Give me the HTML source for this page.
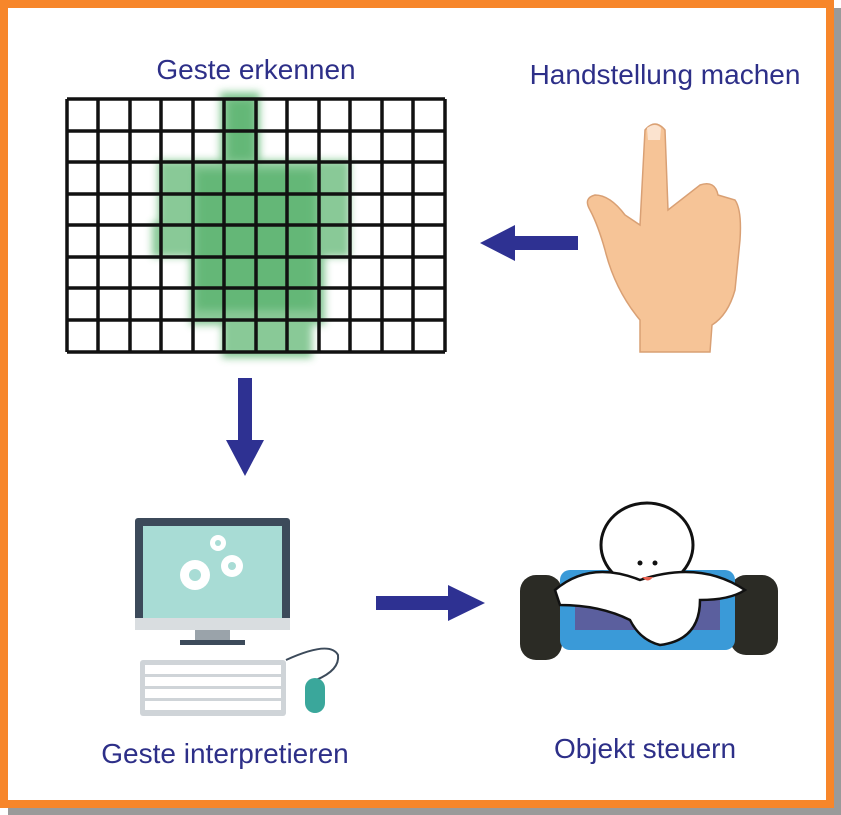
<!DOCTYPE html>
<html><head><meta charset="utf-8"><style>
html,body{margin:0;padding:0;background:#fff}
svg{display:block}
text{font-family:"Liberation Sans",sans-serif;fill:#2d2f88;font-size:28px}
</style></head><body>
<svg width="841" height="815" viewBox="0 0 841 815" xmlns="http://www.w3.org/2000/svg">
<defs>
<filter id="bl" x="-20%" y="-20%" width="140%" height="140%"><feGaussianBlur stdDeviation="4"/></filter>
</defs>
<rect x="0" y="0" width="841" height="815" fill="#fff"/>
<rect x="8" y="8" width="833" height="807" fill="#9a9a9a"/>
<rect x="4" y="4" width="826" height="800" fill="#fff" stroke="#f7862a" stroke-width="8"/>

<text x="256" y="79" text-anchor="middle">Geste erkennen</text>
<text x="665" y="84" text-anchor="middle">Handstellung machen</text>
<text x="225" y="763" text-anchor="middle">Geste interpretieren</text>
<text x="645" y="758" text-anchor="middle">Objekt steuern</text>

<g fill="#3aa652" opacity="0.6" filter="url(#bl)">
<rect x="220" y="92" width="40" height="75"/>
<rect x="158" y="160" width="192" height="65"/>
<rect x="152" y="222" width="198" height="35"/>
<rect x="190" y="255" width="135" height="70"/>
<rect x="222" y="320" width="90" height="38"/>
</g>
<g fill="#2f9e48" opacity="0.4" filter="url(#bl)">
<rect x="228" y="100" width="26" height="60"/>
<rect x="196" y="170" width="120" height="140"/>
</g>
<g stroke="#111" stroke-width="3.5">
<line x1="67" y1="99" x2="67" y2="352"/><line x1="98" y1="99" x2="98" y2="352"/>
<line x1="130" y1="99" x2="130" y2="352"/><line x1="161" y1="99" x2="161" y2="352"/>
<line x1="193" y1="99" x2="193" y2="352"/><line x1="224" y1="99" x2="224" y2="352"/>
<line x1="256" y1="99" x2="256" y2="352"/><line x1="287" y1="99" x2="287" y2="352"/>
<line x1="319" y1="99" x2="319" y2="352"/><line x1="350" y1="99" x2="350" y2="352"/>
<line x1="382" y1="99" x2="382" y2="352"/><line x1="413" y1="99" x2="413" y2="352"/>
<line x1="445" y1="99" x2="445" y2="352"/>
<line x1="67" y1="99" x2="445" y2="99"/><line x1="67" y1="131" x2="445" y2="131"/>
<line x1="67" y1="162" x2="445" y2="162"/><line x1="67" y1="194" x2="445" y2="194"/>
<line x1="67" y1="225" x2="445" y2="225"/><line x1="67" y1="257" x2="445" y2="257"/>
<line x1="67" y1="288" x2="445" y2="288"/><line x1="67" y1="320" x2="445" y2="320"/>
<line x1="67" y1="352" x2="445" y2="352"/>
</g>

<g fill="#2e3192">
<polygon points="578,236 515,236 515,225 480,243 515,261 515,250 578,250"/>
<polygon points="238,378 252,378 252,440 264,440 245,476 226,440 238,440"/>
<polygon points="376,596 448,596 448,585 485,603 448,621 448,610 376,610"/>
</g>

<g fill="#f6c497" stroke="#d9a074" stroke-width="1.5">
<path d="M645,130 Q655,118 665,130 L668,210 L700,185 Q715,180 718,195 L735,200 Q742,210 740,240 L735,290 Q728,315 712,325 L710,352 L640,352 L640,320 Q615,290 605,250 Q598,225 590,210 Q583,198 595,195 Q610,195 625,215 L640,225 Z"/>
</g>
<path d="M647,128 Q655,122 661,128 L660,140 L648,140 Z" fill="#fbe3cf"/>

<rect x="135" y="518" width="155" height="110" rx="3" fill="#3c4a5a"/>
<rect x="143" y="526" width="139" height="92" fill="#a8dcd5"/>
<rect x="135" y="618" width="155" height="12" fill="#d9dde0"/>
<rect x="195" y="630" width="35" height="12" fill="#9aa3aa"/>
<rect x="180" y="640" width="65" height="5" fill="#3c4a5a"/>
<g fill="#fff">
<circle cx="195" cy="575" r="15"/><circle cx="232" cy="566" r="11"/><circle cx="218" cy="543" r="8"/>
</g>
<g fill="#a8dcd5"><circle cx="195" cy="575" r="6"/><circle cx="232" cy="566" r="4"/><circle cx="218" cy="543" r="3"/></g>
<rect x="140" y="660" width="146" height="56" rx="3" fill="#cfd4d8"/>
<g fill="#fff">
<rect x="145" y="665" width="136" height="9"/><rect x="145" y="677" width="136" height="9"/>
<rect x="145" y="689" width="136" height="9"/><rect x="145" y="701" width="136" height="9"/>
</g>
<path d="M286,660 Q330,640 338,655 Q340,670 316,680" fill="none" stroke="#3c4a5a" stroke-width="2"/>
<rect x="305" y="678" width="20" height="35" rx="10" fill="#3aa79b"/>

<rect x="520" y="575" width="42" height="85" rx="16" fill="#2b2b25"/>
<rect x="730" y="575" width="48" height="80" rx="16" fill="#2b2b25"/>
<rect x="560" y="570" width="175" height="80" rx="10" fill="#3a9ad8"/>
<rect x="575" y="580" width="145" height="50" fill="#5b5f9e"/>
<ellipse cx="647" cy="545" rx="46" ry="42" fill="#fff" stroke="#111" stroke-width="3"/>
<path d="M555,590 Q590,560 640,580 Q700,560 745,590 Q730,600 700,600 Q700,640 660,645 Q640,640 630,620 Q600,605 560,605 Z" fill="#fff" stroke="#111" stroke-width="2.5"/>
<circle cx="640" cy="563" r="2.5" fill="#111"/><circle cx="655" cy="563" r="2.5" fill="#111"/>
<path d="M642,577 Q648,584 653,577 Z" fill="#e8604f"/>
</svg>
</body></html>
